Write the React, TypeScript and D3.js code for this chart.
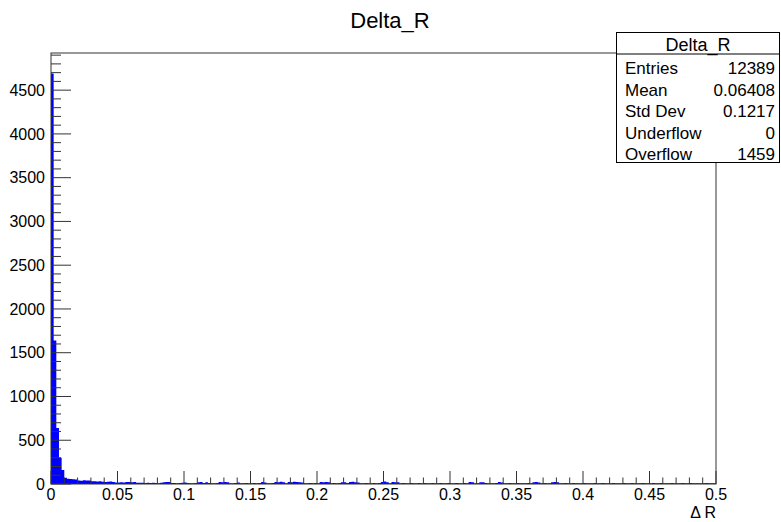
import React from 'react';
import * as d3 from 'd3';

// Delta_R histogram, 250 bins over [0, 0.5)
const binLow = 0;
const binHigh = 0.5;
const binCounts = [
  4690, 1640, 640, 300, 160, 72, 60, 57, 55, 52,
  40, 38, 42, 39, 41, 32, 30, 28, 31, 26,
  22, 27, 29, 24, 18, 17, 19, 16, 22, 24,
  21, 23, 14, 13, 15, 12, 14, 11, 13, 12,
  10, 13, 21, 24, 22, 12, 11, 9, 12, 14,
  18, 11, 10, 9, 12, 20, 23, 12, 21, 11,
  10, 9, 11, 22, 19, 24, 21, 10, 9, 12,
  16, 10, 9, 11, 8, 10, 12, 9, 11, 22,
  18, 10, 9, 11, 24, 20, 26, 21, 10, 23,
  19, 25, 22, 20, 18, 9, 10, 12, 8, 11,
  10, 22, 20, 24, 19, 9, 11, 10, 12, 21,
  20, 11, 23, 26, 21, 18, 10, 9, 11, 8,
  10, 12, 9, 11, 22, 28, 20, 10, 24, 21,
  19, 9, 11, 10, 8, 12, 9, 10, 11, 9,
  12, 8, 10, 11, 9, 10, 12, 8, 9, 11,
  10, 9, 12, 10, 8, 11, 9, 22, 20, 10,
  9, 21, 19, 11, 10, 8, 9, 12, 23, 18,
  10, 9, 11, 8, 10, 12, 9, 10, 8, 11,
  9, 20, 22, 18, 10, 11, 9, 10, 21, 24,
  19, 10, 8, 11, 9, 10, 12, 8, 10, 9,
  11, 9, 10, 8, 12, 10, 9, 11, 8, 10,
  9, 11, 10, 8, 9, 12, 10, 9, 11, 8,
  10, 9, 11, 10, 8, 9, 12, 10, 9, 11,
  8, 10, 9, 11, 10, 9, 8, 12, 10, 9,
  11, 9, 10, 8, 9, 10, 11, 9, 8, 10,
];

const xTickValues = [0, 0.05, 0.1, 0.15, 0.2, 0.25, 0.3, 0.35, 0.4, 0.45, 0.5];
const xTickLabels = ['0', '0.05', '0.1', '0.15', '0.2', '0.25', '0.3', '0.35', '0.4', '0.45', '0.5'];
const yTickValues = [0, 500, 1000, 1500, 2000, 2500, 3000, 3500, 4000, 4500];
const yTickLabels = ['0', '500', '1000', '1500', '2000', '2500', '3000', '3500', '4000', '4500'];

const statsTitle = 'Delta_R';
const statsLabels = ['Entries', 'Mean', 'Std Dev', 'Underflow', 'Overflow'];
const statsValues = ['12389', '0.06408', '0.1217', '0', '1459'];

const W = 781;
const H = 522;
const frame = { left: 51, right: 716, top: 53, bottom: 484 };
const font = '"Liberation Sans", Arial, Helvetica, sans-serif';
const axisColor = '#333';

export default function App() {
  const nBins = binCounts.length;
  const binWidth = (binHigh - binLow) / nBins;

  const x = d3.scaleLinear().domain([binLow, binHigh]).range([frame.left, frame.right]);
  const yMax = (d3.max(binCounts) ?? 0) * 1.05;
  const y = d3.scaleLinear().domain([0, yMax]).range([frame.bottom, frame.top]);

  const stepData = binCounts.map((c, i) => ({ lo: binLow + i * binWidth, c }));
  stepData.push({ lo: binHigh, c: binCounts[nBins - 1] });

  const area = d3
    .area<{ lo: number; c: number }>()
    .x((d) => x(d.lo))
    .y0(y(0))
    .y1((d) => y(d.c))
    .curve(d3.curveStepAfter);

  const xMinor = d3.range(0, 51).map((i) => i * 0.01);
  const yMinor = d3.range(0, Math.floor(yMax / 100) + 1).map((i) => i * 100);

  const xMajorLen = 13;
  const xMinorLen = 6.5;
  const yMajorLen = 20;
  const yMinorLen = 10;

  return (
    <svg
      width={W}
      height={H}
      style={{ position: 'absolute', left: 0, top: 0, background: '#fff' }}
      fontFamily={font}
    >
      <rect x={0} y={0} width={W} height={H} fill="#fff" />

      {/* title */}
      <text x={390} y={28} textAnchor="middle" fontSize={22} fill="#000">
        Delta_R
      </text>

      {/* histogram */}
      <path d={area(stepData) ?? ''} fill="#0000ff" stroke="none" />

      {/* frame */}
      <rect
        x={frame.left}
        y={frame.top}
        width={frame.right - frame.left}
        height={frame.bottom - frame.top}
        fill="none"
        stroke={axisColor}
        strokeWidth={1}
      />

      {/* x ticks */}
      {xMinor.map((v, i) => (
        <line
          key={'xm' + i}
          x1={x(v)}
          x2={x(v)}
          y1={frame.bottom}
          y2={frame.bottom - (i % 5 === 0 ? xMajorLen : xMinorLen)}
          stroke={axisColor}
          strokeWidth={1}
        />
      ))}
      {xTickValues.map((v, i) => (
        <text key={'xl' + i} x={x(v)} y={500} textAnchor="middle" fontSize={16} fill="#000">
          {xTickLabels[i]}
        </text>
      ))}

      {/* y ticks */}
      {yMinor.map((v, i) => (
        <line
          key={'ym' + i}
          x1={frame.left}
          x2={frame.left + (i % 5 === 0 ? yMajorLen : yMinorLen)}
          y1={y(v)}
          y2={y(v)}
          stroke={axisColor}
          strokeWidth={1}
        />
      ))}
      {yTickValues.map((v, i) => (
        <text
          key={'yl' + i}
          x={45}
          y={y(v)}
          dy="0.36em"
          textAnchor="end"
          fontSize={16}
          fill="#000"
        >
          {yTickLabels[i]}
        </text>
      ))}

      {/* x axis title */}
      <text x={frame.right} y={518} textAnchor="end" fontSize={16} fill="#000">
        Δ R
      </text>

      {/* stats box */}
      <g>
        <rect x={616.5} y={32.5} width={163} height={130} fill="#fff" stroke="#000" strokeWidth={1} />
        <line x1={616.5} x2={779.5} y1={54} y2={54} stroke="#000" strokeWidth={1} />
        <text x={698} y={51} textAnchor="middle" fontSize={18} fill="#000">
          {statsTitle}
        </text>
        {statsLabels.map((lab, i) => (
          <g key={'st' + i}>
            <text x={625} y={74 + i * 21.6} fontSize={17} fill="#000">
              {lab}
            </text>
            <text x={775} y={74 + i * 21.6} textAnchor="end" fontSize={17} fill="#000">
              {statsValues[i]}
            </text>
          </g>
        ))}
      </g>
    </svg>
  );
}
